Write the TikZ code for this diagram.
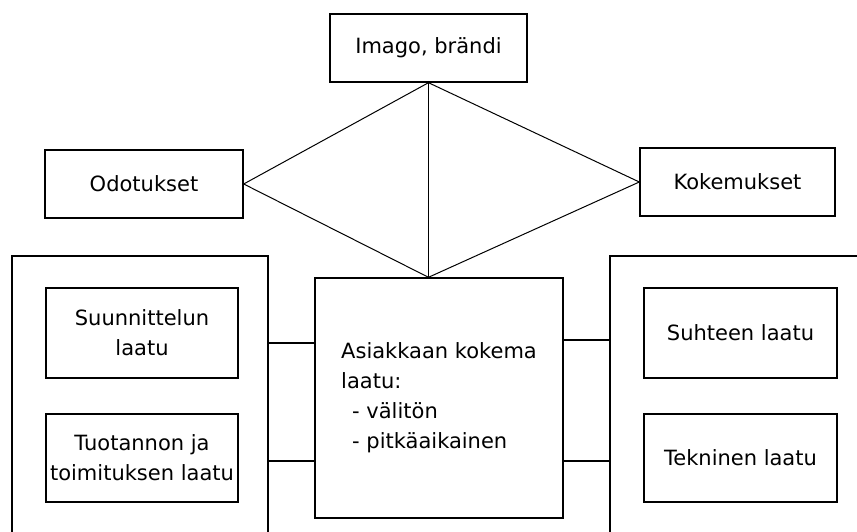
\documentclass[tikz,border=0pt]{standalone}
\usepackage{fontspec}
\setmainfont{DejaVu Sans}
\usetikzlibrary{calc}

\tikzset{
  laatikko/.style = {draw, line width=1.4pt, inner sep=2pt, align=center,
    font=\fontsize{21}{30}\selectfont},
  ohut/.style = {line width=1pt},
  paksu/.style = {line width=1.4pt}
}

\begin{document}
\begin{tikzpicture}[x=1pt,y=-1pt]
        \useasboundingbox (0,0) rectangle (857,532);
        % ylarivi
        \node[laatikko, minimum width=197pt, minimum height=68pt](imago)at(428.5,48){Imago, brändi};
        \node[laatikko, minimum width=198pt, minimum height=68pt](odotukset)at(144,184){Odotukset};
        \node[laatikko, minimum width=195pt, minimum height=68pt](kokemukset)at(737.5,182){Kokemukset};
        % keskella
        \node[laatikko, minimum width=248pt, minimum height=240pt, align=left](koettu)at(439,398)
        {Asiakkaan kokema\\laatu:\\\hspace{11pt}- välitön\\\hspace{11pt}- pitkäaikainen};
        \coordinate(kärki)at(imago.south |- koettu.north);
        % vasen puoli
        \draw[paksu](12,540)to(12,256)to(268,256)to(268,540);
        \node[laatikko, minimum width=192pt, minimum height=90pt](suunnittelu)at(142,333){Suunnittelun\\laatu};
        \node[laatikko, minimum width=192pt, minimum height=88pt](tuotanto)at(142,458){Tuotannon ja\\toimituksen laatu};
        % oikea puoli
        \draw[paksu](610,540)to(610,256)to(865,256);
        \node[laatikko, minimum width=193pt, minimum height=90pt](suhde)at(740.5,333){Suhteen laatu};
        \node[laatikko, minimum width=193pt, minimum height=88pt](tekninen)at(740.5,458){Tekninen laatu};
        % vinoneliö
        \draw[ohut](imago.south)to(odotukset.east)to(kärki)to(kokemukset.west)to cycle;
        \draw[paksu](imago.south)to(kärki);
        % yhdysviivat
        \coordinate(V1)at(268,343);
        \coordinate(V2)at(268,461);
        \coordinate(O1)at(610,340);
        \coordinate(O2)at(610,461);
        \draw[paksu](V1)to(V1 -| koettu.west);
        \draw[paksu](V2)to(V2 -| koettu.west);
        \draw[paksu](O1)to(O1 -| koettu.east);
        \draw[paksu](O2)to(O2 -| koettu.east);
\end{tikzpicture}
\end{document}
